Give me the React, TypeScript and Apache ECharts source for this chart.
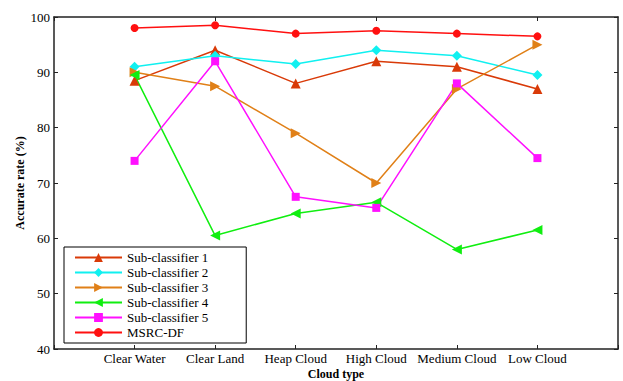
import React, { useEffect, useRef } from "react";
import * as echarts from "echarts";

const categories = ["Clear Water", "Clear Land", "Heap Cloud", "High Cloud", "Medium Cloud", "Low Cloud"];
const sub1 = [88.5, 94, 88, 92, 91, 87];
const sub2 = [91, 93, 91.5, 94, 93, 89.5];
const sub3 = [90, 87.5, 79, 70, 87, 95];
const sub4 = [89.5, 60.5, 64.5, 66.5, 58, 61.5];
const sub5 = [74, 92, 67.5, 65.5, 88, 74.5];
const msrc = [98, 98.5, 97, 97.5, 97, 96.5];
const yTicks = [40, 50, 60, 70, 80, 90, 100];

const FONT = "'Liberation Serif', 'Times New Roman', serif";

export default function App() {
  const ref = useRef<HTMLDivElement>(null);
  useEffect(() => {
    if (!ref.current) return;
    const chart = echarts.init(ref.current, undefined, { renderer: "svg" });
    const xCats = ["", ...categories, ""];
    const pad = (a: number[]) => [null, ...a, null];
    const mk = (name: string, data: number[], color: string, symbol: string, rot = 0, size = 9) => ({
      name,
      type: "line",
      data: pad(data),
      symbol,
      symbolSize: size,
      symbolRotate: rot,
      lineStyle: { color, width: 1.5 },
      itemStyle: { color },
      z: 3,
    });
    const axisLine = { show: true, lineStyle: { color: "#222", width: 1.5 } };
    chart.setOption({
      animation: false,
      textStyle: { fontFamily: FONT },
      grid: { left: 54, right: 5, top: 17, bottom: 32, containLabel: false, outerBoundsMode: "none" },
      legend: {
        orient: "vertical",
        left: 64,
        top: 247,
        padding: [4, 38, 4, 10],
        itemWidth: 47,
        itemHeight: 11,
        itemGap: 2,
        backgroundColor: "#fff",
        borderColor: "#000",
        borderWidth: 1,
        textStyle: { fontFamily: FONT, fontSize: 13, color: "#000" },
        data: ["Sub-classifier 1", "Sub-classifier 2", "Sub-classifier 3", "Sub-classifier 4", "Sub-classifier 5", "MSRC-DF"],
      },
      xAxis: [
        {
          type: "category",
          data: xCats,
          boundaryGap: false,
          axisLine,
          axisTick: { show: true, inside: true, length: 4, lineStyle: { color: "#222" } },
          axisLabel: { color: "#000", fontSize: 13, fontFamily: FONT, margin: 3, interval: 0 },
          name: "Cloud type",
          nameLocation: "middle",
          nameGap: 19,
          nameMoveOverlap: false,
          nameTextStyle: { fontFamily: FONT, fontSize: 12, fontWeight: "bold", color: "#000" },
          splitLine: { show: false },
        },
        {
          type: "category",
          data: xCats,
          boundaryGap: false,
          position: "top",
          axisLine,
          axisTick: { show: true, inside: true, length: 4, lineStyle: { color: "#222" } },
          axisLabel: { show: false },
          splitLine: { show: false },
        },
      ],
      yAxis: [
        {
          type: "value",
          min: yTicks[0],
          max: yTicks[yTicks.length - 1],
          interval: 10,
          axisLine,
          axisTick: { show: true, inside: true, length: 4, lineStyle: { color: "#222" } },
          axisLabel: { color: "#000", fontSize: 13, fontFamily: FONT, margin: 4 },
          splitLine: { show: false },
          name: "Accurate rate (%)",
          nameLocation: "middle",
          nameGap: 28,
          nameMoveOverlap: false,
          nameTextStyle: { fontFamily: FONT, fontSize: 12, fontWeight: "bold", color: "#000" },
        },
        {
          type: "value",
          min: yTicks[0],
          max: yTicks[yTicks.length - 1],
          interval: 10,
          position: "right",
          axisLine,
          axisTick: { show: true, inside: true, length: 4, lineStyle: { color: "#222" } },
          axisLabel: { show: false },
          splitLine: { show: false },
        },
      ],
      series: [
        mk("Sub-classifier 1", sub1, "#d93a08", "triangle", 0, 10),
        mk("Sub-classifier 2", sub2, "#10f0f0", "diamond", 0, 10),
        mk("Sub-classifier 3", sub3, "#e08018", "triangle", -90, 10),
        mk("Sub-classifier 4", sub4, "#10ee10", "triangle", 90, 10),
        mk("Sub-classifier 5", sub5, "#ff10ff", "rect", 0, 8),
        mk("MSRC-DF", msrc, "#ff1010", "circle", 0, 8),
      ],
    });
    return () => chart.dispose();
  }, []);
  return <div ref={ref} style={{ width: 623, height: 381, position: "absolute", left: 0, top: 0 }} />;
}
